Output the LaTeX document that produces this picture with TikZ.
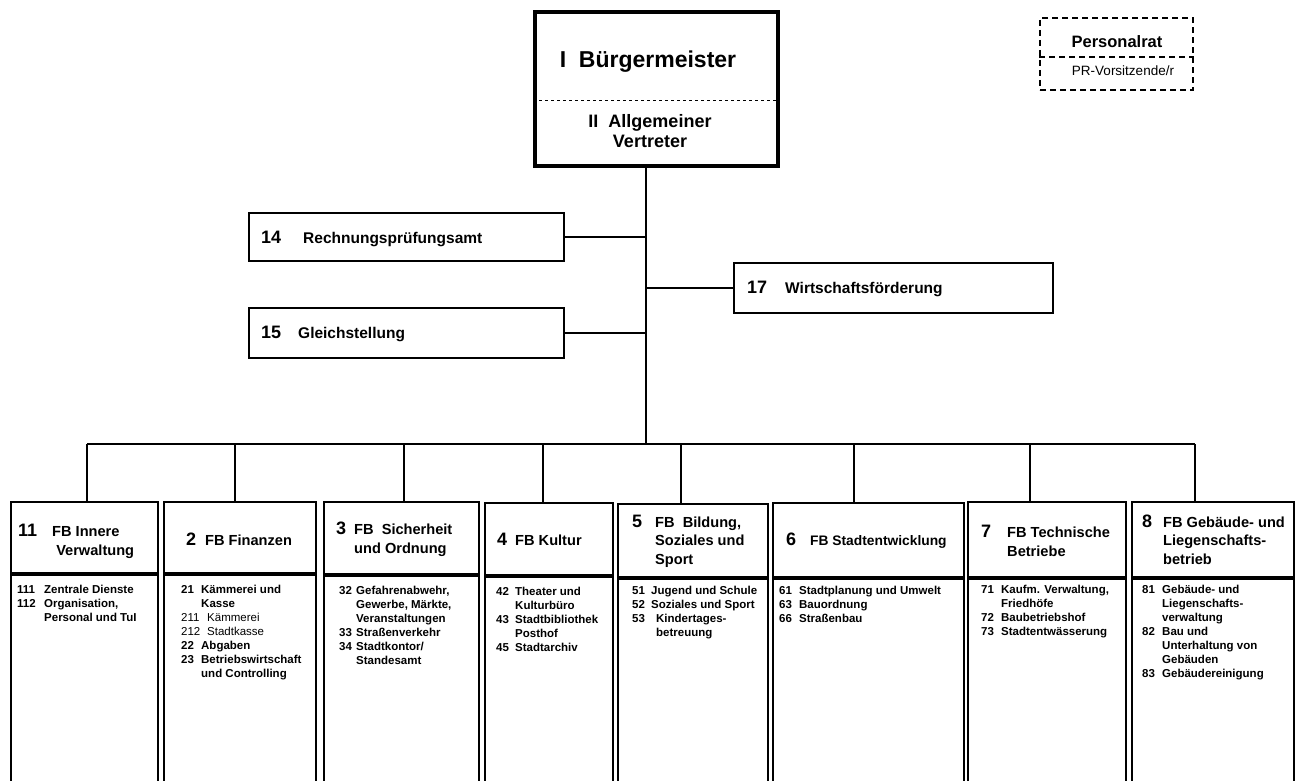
\documentclass[tikz,border=0pt]{standalone}
\usepackage{fontspec}
\setmainfont{Liberation Sans}

\newcommand{\zl}[3]{\makebox[#1][l]{#2}#3}

\begin{document}
\begin{tikzpicture}[x=1pt,y=-1pt,
    rahmen/.style={draw,line width=2pt,inner sep=0pt,anchor=north west},
    txt/.style={anchor=base west,inner sep=0pt},
    nr/.style={txt,font=\fontsize{18}{20}\selectfont\bfseries},
    titel/.style={txt,font=\fontsize{14.6}{19}\selectfont\bfseries},
    liste/.style={txt,font=\fontsize{11.5}{14.1}\selectfont\bfseries},
    linie/.style={line width=1.6pt}]
\useasboundingbox (0,0) rectangle (1302,781);

% Buergermeister
\node[rahmen,line width=4pt,minimum width=243pt,minimum height=154pt] (bm) at (533,10) {};
\draw[dashed,line width=0.9pt] ([yshift=-90pt]bm.north west) -- ([yshift=-90pt]bm.north east);
\node[anchor=base,inner sep=0pt,font=\fontsize{23}{25}\selectfont\bfseries] (bmname) at (648,68) {I\ \ Bürgermeister};
\node[anchor=base,inner sep=0pt,font=\fontsize{18}{20}\selectfont\bfseries] (vtname) at (650,128)
    {\begin{tabular}[t]{@{}c@{}}II\ \ Allgemeiner\\Vertreter\end{tabular}};

% Personalrat
\node[rahmen,dash pattern=on 6pt off 4pt,minimum width=153pt,minimum height=72pt] (pr) at (1039,17) {};
\draw[dash pattern=on 6pt off 4pt,line width=2pt] ([yshift=-40pt]pr.north west) -- ([yshift=-40pt]pr.north east);
\node[anchor=base,inner sep=0pt,font=\fontsize{16.5}{18}\selectfont\bfseries] (prname) at (1117,48) {Personalrat};
\node[anchor=base,inner sep=0pt,font=\fontsize{13.5}{15}\selectfont] (prvors) at (1123,76) {PR-Vorsitzende/r};

% Stabsstellen
\node[rahmen,minimum width=315pt,minimum height=48pt] (rpa) at (248,212) {};
\node[nr] (rpanr) at (261,243) {14};
\node[titel,font=\fontsize{15.5}{19}\selectfont\bfseries] (rpatxt) at (303,243) {Rechnungsprüfungsamt};
\node[rahmen,minimum width=315pt,minimum height=50pt] (gst) at (248,307) {};
\node[nr] (gstnr) at (261,338) {15};
\node[titel,font=\fontsize{15.5}{19}\selectfont\bfseries] (gsttxt) at (298,338) {Gleichstellung};
\node[rahmen,minimum width=319pt,minimum height=50pt] (wf) at (733,262) {};
\node[nr] (wfnr) at (747,293) {17};
\node[titel,font=\fontsize{15.5}{19}\selectfont\bfseries] (wftxt) at (785,293) {Wirtschaftsförderung};

\coordinate (bus) at (646,444);
\draw[linie] (bm.south -| bus) -- (bus);
\draw[linie] (rpa.east) -- (rpa.east -| bus);
\draw[linie] (gst.east) -- (gst.east -| bus);
\draw[linie] (wf.west) -- (wf.west -| bus);

% Fachbereiche
\node[rahmen,minimum width=147pt,minimum height=71pt] (fb1) at (10,501) {};
\node[rahmen,minimum width=152pt,minimum height=71pt] (fb2) at (163,501) {};
\node[rahmen,minimum width=155pt,minimum height=72pt] (fb3) at (323,501) {};
\node[rahmen,minimum width=128pt,minimum height=72pt] (fb4) at (484,502) {};
\node[rahmen,minimum width=150pt,minimum height=73pt] (fb5) at (617,503) {};
\node[rahmen,minimum width=191pt,minimum height=74pt] (fb6) at (772,502) {};
\node[rahmen,minimum width=158pt,minimum height=75pt] (fb7) at (967,501) {};
\node[rahmen,minimum width=162pt,minimum height=75pt] (fb8) at (1131,501) {};
\foreach \i/\w in {1/147,2/152,3/155,4/128,5/150,6/191,7/158,8/162}
    \node[rahmen,anchor=north,minimum width=\w pt,minimum height=300pt] (fb\i b) at (fb\i.south) {};

\coordinate (d1) at (87,444);
\coordinate (d2) at (235,444);
\coordinate (d3) at (404,444);
\coordinate (d4) at (543,444);
\coordinate (d5) at (681,444);
\coordinate (d6) at (854,444);
\coordinate (d7) at (1030,444);
\coordinate (d8) at (1195,444);
\draw[linie] (d1) -- (d8);
\foreach \i in {1,...,8}
    \draw[linie] (d\i) -- (d\i |- fb\i.north);

% Kopfzeilen
\node[nr] (n1) at (18,536) {11};
\node[titel] (t1) at (52,536) {\begin{tabular}[t]{@{}l@{}}FB Innere\\ \ Verwaltung\end{tabular}};
\node[nr] (n2) at (186,545) {2};
\node[titel] (t2) at (205,545) {FB Finanzen};
\node[nr] (n3) at (336,534) {3};
\node[titel] (t3) at (354,534) {\begin{tabular}[t]{@{}l@{}}FB\ \ Sicherheit\\und Ordnung\end{tabular}};
\node[nr] (n4) at (497,545) {4};
\node[titel] (t4) at (515,545) {FB Kultur};
\node[nr] (n5) at (632,527) {5};
\node[titel,font=\fontsize{14.6}{18.5}\selectfont\bfseries] (t5) at (655,527)
    {\begin{tabular}[t]{@{}l@{}}FB\ \ Bildung,\\Soziales und\\Sport\end{tabular}};
\node[nr] (n6) at (786,545) {6};
\node[titel,font=\fontsize{13.8}{19}\selectfont\bfseries] (t6) at (810,545) {FB Stadtentwicklung};
\node[nr] (n7) at (981,537) {7};
\node[titel] (t7) at (1007,537) {\begin{tabular}[t]{@{}l@{}}FB Technische\\Betriebe\end{tabular}};
\node[nr] (n8) at (1142,527) {8};
\node[titel,font=\fontsize{14.6}{18.5}\selectfont\bfseries] (t8) at (1163,527)
    {\begin{tabular}[t]{@{}l@{}}FB Gebäude- und\\Liegenschafts-\\betrieb\end{tabular}};

% Listen
\node[liste] (l1) at (17,593) {\begin{tabular}[t]{@{}l@{}}
    \zl{27pt}{111}{Zentrale Dienste}\\
    \zl{27pt}{112}{Organisation,}\\
    \zl{27pt}{}{Personal und TuI}\end{tabular}};
\node[liste] (l2) at (181,593) {\begin{tabular}[t]{@{}l@{}}
    \zl{20pt}{21}{Kämmerei und}\\
    \zl{20pt}{}{Kasse}\\
    \mdseries\zl{26pt}{211}{Kämmerei}\\
    \mdseries\zl{26pt}{212}{Stadtkasse}\\
    \zl{20pt}{22}{Abgaben}\\
    \zl{20pt}{23}{Betriebswirtschaft}\\
    \zl{20pt}{}{und Controlling}\end{tabular}};
\node[liste] (l3) at (339,594) {\begin{tabular}[t]{@{}l@{}}
    \zl{17pt}{32}{Gefahrenabwehr,}\\
    \zl{17pt}{}{Gewerbe, Märkte,}\\
    \zl{17pt}{}{Veranstaltungen}\\
    \zl{17pt}{33}{Straßenverkehr}\\
    \zl{17pt}{34}{Stadtkontor/}\\
    \zl{17pt}{}{Standesamt}\end{tabular}};
\node[liste] (l4) at (496,595) {\begin{tabular}[t]{@{}l@{}}
    \zl{19pt}{42}{Theater und}\\
    \zl{19pt}{}{Kulturbüro}\\
    \zl{19pt}{43}{Stadtbibliothek}\\
    \zl{19pt}{}{Posthof}\\
    \zl{19pt}{45}{Stadtarchiv}\end{tabular}};
\node[liste] (l5) at (632,594) {\begin{tabular}[t]{@{}l@{}}
    \zl{19pt}{51}{Jugend und Schule}\\
    \zl{19pt}{52}{Soziales und Sport}\\
    \zl{24pt}{53}{Kindertages-}\\
    \zl{24pt}{}{betreuung}\end{tabular}};
\node[liste] (l6) at (779,594) {\begin{tabular}[t]{@{}l@{}}
    \zl{20pt}{61}{Stadtplanung und Umwelt}\\
    \zl{20pt}{63}{Bauordnung}\\
    \zl{20pt}{66}{Straßenbau}\end{tabular}};
\node[liste] (l7) at (981,593) {\begin{tabular}[t]{@{}l@{}}
    \zl{20pt}{71}{Kaufm. Verwaltung,}\\
    \zl{20pt}{}{Friedhöfe}\\
    \zl{20pt}{72}{Baubetriebshof}\\
    \zl{20pt}{73}{Stadtentwässerung}\end{tabular}};
\node[liste] (l8) at (1142,593) {\begin{tabular}[t]{@{}l@{}}
    \zl{20pt}{81}{Gebäude- und}\\
    \zl{20pt}{}{Liegenschafts-}\\
    \zl{20pt}{}{verwaltung}\\
    \zl{20pt}{82}{Bau und}\\
    \zl{20pt}{}{Unterhaltung von}\\
    \zl{20pt}{}{Gebäuden}\\
    \zl{20pt}{83}{Gebäudereinigung}\end{tabular}};
\end{tikzpicture}
\end{document}
